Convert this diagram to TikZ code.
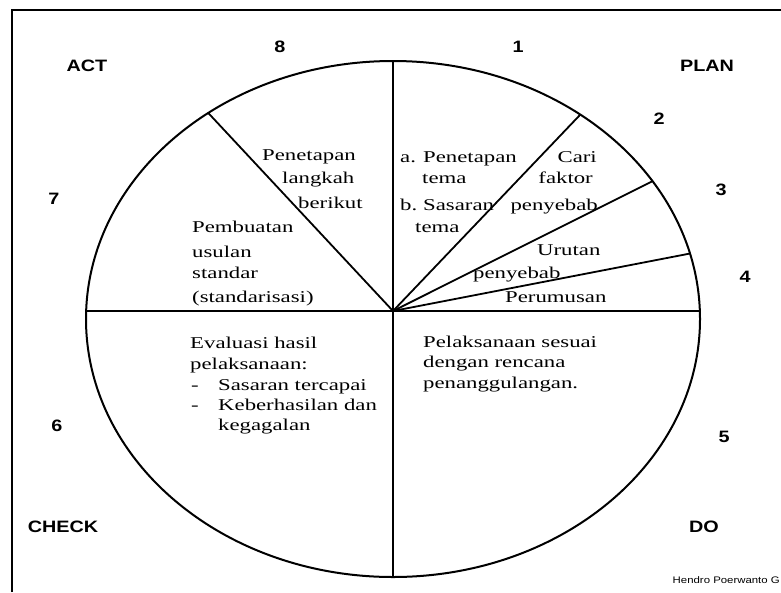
\documentclass[tikz,border=0pt]{standalone}
\usepackage{fontspec}
\newfontfamily\txtfont[FakeStretch=1.38]{Liberation Serif}
\newfontfamily\lblfont[FakeStretch=1.2]{Liberation Sans}
\usetikzlibrary{calc}
\begin{document}
\begin{tikzpicture}[x=1pt,y=-1pt,
  txt/.style={font=\txtfont\fontsize{16.5}{20}\selectfont, anchor=base west, inner sep=0pt},
  lbl/.style={font=\lblfont\bfseries\fontsize{16.5}{18}\selectfont, inner sep=0pt},
  rim/.style={line width=2pt},
  ray/.style={line width=1.8pt},
  frame/.style={line width=2pt}]
\useasboundingbox (0,0) rectangle (781,592);
% frame (cropped)
\draw[frame] (12,592) -- (12,10) -- (781,10);
% ellipse
\coordinate (E) at (393,319);
\coordinate (O) at (393,311);
\draw[rim] (E) ellipse [x radius=307, y radius=258];
\coordinate (top) at ($(E)+(0,-258)$);
\coordinate (bot) at ($(E)+(0,258)$);
\coordinate (hl) at (86.2,311);
\coordinate (hr) at (699.8,311);
\coordinate (r2) at ($(E)+(-52.4:307 and 258)$);
\coordinate (r3) at ($(E)+(-32.3:307 and 258)$);
\coordinate (r4) at ($(E)+(-14.7:307 and 258)$);
\coordinate (r8) at ($(E)+(-127:307 and 258)$);
\draw[line width=1.4pt] (top) -- (bot);
\draw[line width=2.4pt] (hl) -- (hr);
\draw[ray] (O) -- (r2);
\draw[ray] (O) -- (r3);
\draw[ray] (O) -- (r4);
\draw[ray] (O) -- (r8);
% corner labels
\node[lbl] (act) at (87,66) {ACT};
\node[lbl] (plan) at (707,66) {PLAN};
\node[lbl] (check) at (63,527) {CHECK};
\node[lbl] (do) at (704,527) {DO};
% numbers
\node[lbl] (n8) at (280,47) {8};
\node[lbl] (n1) at (518,47) {1};
\node[lbl] (n2) at (659,119) {2};
\node[lbl] (n3) at (721,190) {3};
\node[lbl] (n4) at (745,277) {4};
\node[lbl] (n5) at (724,437) {5};
\node[lbl] (n6) at (57,426) {6};
\node[lbl] (n7) at (54,199) {7};
\node[font=\lblfont\fontsize{9.5}{11}\selectfont, anchor=base east, inner sep=0pt] (auth) at (780,583) {Hendro Poerwanto G};
% sector 1
\node[txt] (s1a) at (400,162) {a.};
\node[txt] (s1b) at (423,162) {Penetapan};
\node[txt] (s1c) at (422,183) {tema};
\node[txt] (s1d) at (400,210) {b.};
\node[txt] (s1e) at (423,210) {Sasaran};
\node[txt] (s1f) at (415,232) {tema};
% sector 2
\node[txt,anchor=base east] (s2a) at (597,162) {Cari};
\node[txt,anchor=base east] (s2b) at (593,183) {faktor};
\node[txt,anchor=base east] (s2c) at (598,210) {penyebab};
% sector 3
\node[txt] (s3a) at (537,255) {Urutan};
\node[txt] (s3b) at (473,278) {penyebab};
% sector 4
\node[txt] (s4a) at (505,302) {Perumusan};
% sector 8
\node[txt] (s8a) at (262,160) {Penetapan};
\node[txt] (s8b) at (282,183) {langkah};
\node[txt] (s8c) at (298,208) {berikut};
% sector 7
\node[txt] (s7a) at (192,232) {Pembuatan};
\node[txt] (s7b) at (192,257) {usulan};
\node[txt] (s7c) at (192,278) {standar};
\node[txt] (s7d) at (192,302) {(standarisasi)};
% sector 6
\node[txt] (s6a) at (190,348) {Evaluasi hasil};
\node[txt] (s6b) at (190,369) {pelaksanaan:};
\node[txt] (s6c) at (191,390) {-};
\node[txt] (s6d) at (218,390) {Sasaran tercapai};
\node[txt] (s6e) at (191,410) {-};
\node[txt] (s6f) at (218,410) {Keberhasilan dan};
\node[txt] (s6g) at (218,430) {kegagalan};
% sector 5
\node[txt] (s5a) at (423,347) {Pelaksanaan sesuai};
\node[txt] (s5b) at (423,367) {dengan rencana};
\node[txt] (s5c) at (423,388) {penanggulangan.};
\end{tikzpicture}
\end{document}
